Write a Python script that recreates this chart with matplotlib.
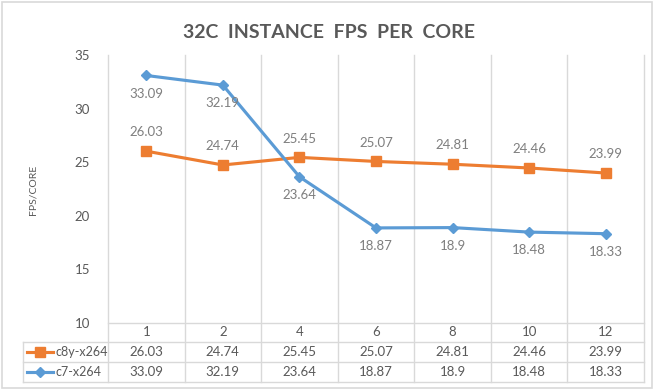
import matplotlib
matplotlib.use("Agg")
from matplotlib import pyplot as plt
from matplotlib.patches import Rectangle
from matplotlib.lines import Line2D

# chart data
categories = ['1', '2', '4', '6', '8', '10', '12']
c8y_values = [26.03, 24.74, 25.45, 25.07, 24.81, 24.46, 23.99]
c7_values = [33.09, 32.19, 23.64, 18.87, 18.9, 18.48, 18.33]
c8y_labels = ['26.03', '24.74', '25.45', '25.07', '24.81', '24.46', '23.99']
c7_labels = ['33.09', '32.19', '23.64', '18.87', '18.9', '18.48', '18.33']
y_ticks = [10, 15, 20, 25, 30, 35]

ORANGE = '#ED7D31'
BLUE = '#5B9BD5'
GRID = '#d9d9d9'
TEXT = '#595959'
LABEL = '#7f7f7f'

plt.rcParams['font.family'] = ['Lato', 'DejaVu Sans']

W, H = 660, 390
fig = plt.figure(figsize=(W / 100, H / 100), dpi=100)

# plot area in pixels
left, right, top, bottom = 108, 644, 55, 323
ax = fig.add_axes([left / W, 1 - bottom / H, (right - left) / W, (bottom - top) / H])
ph = bottom - top

def ay(p):  # pixel row -> axes fraction
    return (bottom - p) / ph

x = list(range(len(categories)))
ax.set_xlim(-0.5, len(categories) - 0.5)
ax.set_ylim(10, 35)
for s in ax.spines.values():
    s.set_visible(False)
ax.set_xticks([])
ax.set_yticks(y_ticks)
ax.tick_params(axis='y', length=0, pad=13, labelsize=9.5, labelcolor=TEXT)

row1, row2, row3 = 342, 362, 382
tr = ax.get_xaxis_transform()

# vertical gridlines across plot and table
for k in range(len(categories) + 1):
    ax.plot([k - 0.5, k - 0.5], [1, ay(row3)], color=GRID, lw=1, transform=tr, clip_on=False, zorder=0)
# table horizontal lines
ax.plot([-0.5, len(categories) - 0.5], [0, 0], color=GRID, lw=1, transform=tr, clip_on=False, zorder=0)
leg_left = (23 - left) / (right - left)
for r in (row1, row2, row3):
    ax.plot([leg_left, 1], [ay(r), ay(r)], color=GRID, lw=1, transform=ax.transAxes, clip_on=False, zorder=0)
ax.plot([leg_left, leg_left], [ay(row1), ay(row3)], color=GRID, lw=1, transform=ax.transAxes, clip_on=False, zorder=0)

# series
ax.plot(x, c8y_values, color=ORANGE, lw=2.25, marker='s', markersize=7.5, zorder=3)
ax.plot(x, c7_values, color=BLUE, lw=2.25, marker='D', markersize=5.5, zorder=3)

for xi, v, t in zip(x, c8y_values, c8y_labels):
    ax.annotate(t, (xi, v), xytext=(0, 13.5), textcoords='offset points', ha='center', va='center',
                fontsize=9.5, color=LABEL)
for xi, v, t in zip(x, c7_values, c7_labels):
    ax.annotate(t, (xi, v), xytext=(0, -13), textcoords='offset points', ha='center', va='center',
                fontsize=9.5, color=LABEL)

# data table text
for xi, c, a, b in zip(x, categories, c8y_labels, c7_labels):
    ax.text(xi, ay((bottom + row1) / 2), c, transform=tr, ha='center', va='center', fontsize=9.5, color=TEXT)
    ax.text(xi, ay((row1 + row2) / 2), a, transform=tr, ha='center', va='center', fontsize=9.5, color=TEXT)
    ax.text(xi, ay((row2 + row3) / 2), b, transform=tr, ha='center', va='center', fontsize=9.5, color=TEXT)

# legend keys in table
for r_mid, col, mk, ms, name in [((row1 + row2) / 2, ORANGE, 's', 7, 'c8y-x264'),
                                  ((row2 + row3) / 2, BLUE, 'D', 5, 'c7-x264')]:
    yy = 1 - r_mid / H
    fig.add_artist(Line2D([27 / W, 53 / W], [yy, yy], color=col, lw=2.25))
    fig.add_artist(Line2D([40 / W], [yy], color=col, marker=mk, markersize=ms))
    fig.text(55 / W, yy, name, ha='left', va='center', fontsize=9, color=TEXT)

# axis title and chart title
fig.text(33 / W, 1 - 190 / H, 'FPS/CORE', rotation=90, ha='center', va='center', fontsize=7.5, color=TEXT)
fig.text(329 / W, 1 - 32 / H, '32C  INSTANCE  FPS  PER  CORE', ha='center', va='center',
         fontsize=14, fontweight='bold', color=TEXT)

# chart border
fig.add_artist(Rectangle((1.5 / W, 2 / H), 650 / W, 386 / H, fill=False, edgecolor=GRID, lw=1.2))

fig.savefig('out.png', dpi=100)
